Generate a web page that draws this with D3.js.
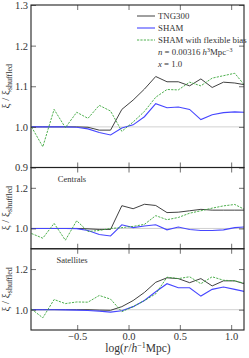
<!DOCTYPE html>
<html>
<head>
<meta charset="utf-8">
<script src="https://cdn.jsdelivr.net/npm/d3@7"></script>
<style>
  body { margin: 0; background: #fff; }
  svg { display: block; }
  text { font-family: "Liberation Serif", "DejaVu Serif", serif; fill: #333; }
</style>
</head>
<body>
<svg id="chart" width="249" height="358"></svg>
<script>
// bin centres, log(r / h^-1 Mpc)
const logR = [-0.945, -0.835, -0.725, -0.615, -0.505, -0.395, -0.285, -0.175, -0.065, 0.045,
              0.155, 0.265, 0.375, 0.485, 0.595, 0.705, 0.815, 0.925, 1.035, 1.145];

// all galaxies
const tngAll  = [1.0, 1.0, 1.0, 1.0, 1.0, 0.999, 0.992, 0.992, 1.043, 1.066, 1.093, 1.124, 1.111, 1.111, 1.101, 1.118, 1.097, 1.110, 1.108, 1.103];
const shamAll = [1.0, 1.0, 1.0, 1.0, 0.999, 0.995, 0.986, 0.980, 0.997, 1.005, 1.025, 1.057, 1.047, 1.049, 1.043, 1.018, 1.030, 1.035, 1.037, 1.036];
const flexAll = [1.0, 0.951, 1.043, 0.998, 1.036, 1.021, 1.053, 1.039, 0.989, 1.012, 1.038, 1.073, 1.092, 1.091, 1.110, 1.101, 1.120, 1.126, 1.132, 1.098];

// centrals
const tngCen  = [1.0, 1.0, 1.0, 1.0, 1.0, 0.998, 0.995, 0.995, 1.112, 1.097, 1.119, 1.113, 1.078, 1.080, 1.087, 1.094, 1.090, 1.090, 1.090, 1.090];
const shamCen = [1.0, 1.0, 1.0, 1.0, 0.999, 0.990, 0.970, 0.963, 1.018, 1.004, 1.012, 1.018, 0.993, 1.007, 0.995, 0.990, 0.990, 0.993, 1.004, 1.008];
const flexCen = [0.975, 0.952, 1.025, 0.942, 1.038, 0.985, 0.990, 1.0, 1.004, 1.010, 1.020, 1.063, 1.043, 1.054, 1.075, 1.087, 1.100, 1.111, 1.118, 1.090];

// satellites
const tngSat  = [1.0, 1.0, 1.0, 1.0, 1.0, 1.0, 0.998, 0.997, 1.015, 1.045, 1.085, 1.135, 1.157, 1.153, 1.133, 1.153, 1.117, 1.142, 1.142, 1.125];
const shamSat = [1.0, 1.0, 1.0, 0.999, 0.998, 0.996, 0.993, 0.988, 0.995, 1.015, 1.045, 1.088, 1.128, 1.108, 1.108, 1.067, 1.100, 1.112, 1.100, 1.088];
const flexSat = [1.003, 0.960, 1.050, 1.030, 1.038, 1.037, 1.070, 1.052, 0.990, 1.015, 1.045, 1.078, 1.160, 1.153, 1.162, 1.128, 1.162, 1.145, 1.142, 1.128];

const panelNames = ["", "Centrals", "Satellites"];
const seriesNames = ["TNG300", "SHAM", "SHAM with flexible bias"];
const xTicks = [-0.5, 0, 0.5, 1.0];

const svg = d3.select("#chart");
const plotLeft = 31, plotRight = 244, plotTop = 5, plotBottom = 330;
const unit = (plotBottom - plotTop) / 4;

const x = d3.scaleLinear().domain([-0.95, 1.125]).range([plotLeft, plotRight]);
const xMinor = d3.range(-0.9, 1.101, 0.1).map(v => +v.toFixed(2));

const panels = [
  { y0: plotTop, y1: plotTop + 2 * unit, data: [tngAll, shamAll, flexAll],
    major: [0.9, 1.0, 1.1, 1.2, 1.3], labels: [0.9, 1.0, 1.1, 1.2, 1.3], minorStep: 0.02 },
  { y0: plotTop + 2 * unit, y1: plotTop + 3 * unit, data: [tngCen, shamCen, flexCen],
    major: [1.0, 1.2], labels: [1.0, 1.2], minorStep: 0.05 },
  { y0: plotTop + 3 * unit, y1: plotBottom, data: [tngSat, shamSat, flexSat],
    major: [1.0, 1.2], labels: [1.0, 1.2], minorStep: 0.05 }
];

const styles = [
  { stroke: "#2b2b2b", width: 0.9, dash: null },
  { stroke: "#4646ff", width: 1.1, dash: null },
  { stroke: "#3aa63a", width: 0.9, dash: "2.2,1.2" }
];

const fmt = d3.format(".1f");

panels.forEach((p, i) => {
  const y = d3.scaleLinear().domain([0.9, 1.3]).range([p.y1, p.y0]);
  const minors = d3.range(0.9, 1.3001, p.minorStep).map(v => +v.toFixed(3));
  const g = svg.append("g");

  g.append("clipPath").attr("id", "clip" + i)
    .append("rect").attr("x", plotLeft).attr("y", p.y0)
    .attr("width", plotRight - plotLeft).attr("height", p.y1 - p.y0);

  // reference line at unity
  g.append("line")
    .attr("x1", plotLeft).attr("x2", plotRight)
    .attr("y1", y(1)).attr("y2", y(1))
    .attr("stroke", "#c4c4c4").attr("stroke-width", 0.8);

  const line = d3.line().x((d, j) => x(logR[j])).y(d => y(d));
  p.data.forEach((s, k) => {
    g.append("path")
      .datum(s)
      .attr("clip-path", `url(#clip${i})`)
      .attr("fill", "none")
      .attr("stroke", styles[k].stroke)
      .attr("stroke-width", styles[k].width)
      .attr("stroke-dasharray", styles[k].dash)
      .attr("d", line);
  });

  // y axes (ticks pointing inward)
  const yl = g.append("g").attr("transform", `translate(${plotLeft},0)`);
  yl.call(d3.axisLeft(y).tickValues(minors).tickSize(-2.5).tickFormat(""));
  yl.call(d3.axisLeft(y).tickValues(p.major).tickSize(-5).tickPadding(3)
    .tickFormat(d => p.labels.includes(d) ? fmt(d) : ""));
  const yr = g.append("g").attr("transform", `translate(${plotRight},0)`);
  yr.call(d3.axisRight(y).tickValues(minors).tickSize(-2.5).tickFormat(""));
  yr.call(d3.axisRight(y).tickValues(p.major).tickSize(-5).tickFormat(""));

  // x axes top and bottom
  const xt = g.append("g").attr("transform", `translate(0,${p.y0})`);
  xt.call(d3.axisTop(x).tickValues(xMinor).tickSize(-2.5).tickFormat(""));
  xt.call(d3.axisTop(x).tickValues(xTicks).tickSize(-5).tickFormat(""));
  const xb = g.append("g").attr("transform", `translate(0,${p.y1})`);
  xb.call(d3.axisBottom(x).tickValues(xMinor).tickSize(-2.5).tickFormat(""));
  xb.call(d3.axisBottom(x).tickValues(xTicks).tickSize(-5).tickPadding(3)
    .tickFormat(i === 2 ? fmt : ""));

  g.selectAll(".domain").remove();
  g.selectAll(".tick line").attr("stroke", "#333").attr("stroke-width", 0.7);
  g.selectAll(".tick text").attr("font-size", 10.5).attr("fill", "#444")
    .style("font-family", '"Liberation Serif", serif');

  g.append("rect")
    .attr("x", plotLeft).attr("y", p.y0)
    .attr("width", plotRight - plotLeft).attr("height", p.y1 - p.y0)
    .attr("fill", "none").attr("stroke", "#222").attr("stroke-width", 1.1);

  // y label
  const cy = (p.y0 + p.y1) / 2;
  const yt = g.append("text")
    .attr("transform", `translate(9,${cy}) rotate(-90)`)
    .attr("text-anchor", "middle").attr("font-size", 11).attr("fill", "#444");
  yt.append("tspan").text("ξ / ξ");
  yt.append("tspan").attr("font-size", 8).attr("dy", 2.5).text("shuffled");

  if (panelNames[i]) {
    g.append("text")
      .attr("x", 72).attr("y", p.y0 + 14)
      .attr("text-anchor", "middle").attr("font-size", 8.5).attr("fill", "#444")
      .text(panelNames[i]);
  }
});

// legend
const leg = svg.append("g");
seriesNames.forEach((name, k) => {
  const ly = 16 + k * 12;
  leg.append("line")
    .attr("x1", 137).attr("x2", 155).attr("y1", ly).attr("y2", ly)
    .attr("stroke", styles[k].stroke).attr("stroke-width", styles[k].width)
    .attr("stroke-dasharray", styles[k].dash);
  leg.append("text").attr("x", 158).attr("y", ly + 3)
    .attr("font-size", 8.8).attr("fill", "#444").text(name);
});
const nText = leg.append("text").attr("x", 158).attr("y", 55).attr("font-size", 8.8).attr("fill", "#444");
nText.append("tspan").attr("font-style", "italic").text("n");
nText.append("tspan").text(" = 0.00316 ");
nText.append("tspan").attr("font-style", "italic").text("h");
nText.append("tspan").attr("font-size", 6).attr("dy", -3).text("3");
nText.append("tspan").attr("dy", 3).text("Mpc");
nText.append("tspan").attr("font-size", 6).attr("dy", -3).text("−3");
const xText = leg.append("text").attr("x", 158).attr("y", 67).attr("font-size", 8.8).attr("fill", "#444");
xText.append("tspan").attr("font-style", "italic").text("x");
xText.append("tspan").text(" = 1.0");

// x label
const xl = svg.append("text")
  .attr("x", 138).attr("y", 352)
  .attr("text-anchor", "middle").attr("font-size", 11.5).attr("fill", "#444");
xl.append("tspan").text("log(");
xl.append("tspan").attr("font-style", "italic").text("r");
xl.append("tspan").text("/");
xl.append("tspan").attr("font-style", "italic").text("h");
xl.append("tspan").attr("font-size", 8).attr("dy", -4).text("−1");
xl.append("tspan").attr("dy", 4).text("Mpc)");
</script>
</body>
</html>
